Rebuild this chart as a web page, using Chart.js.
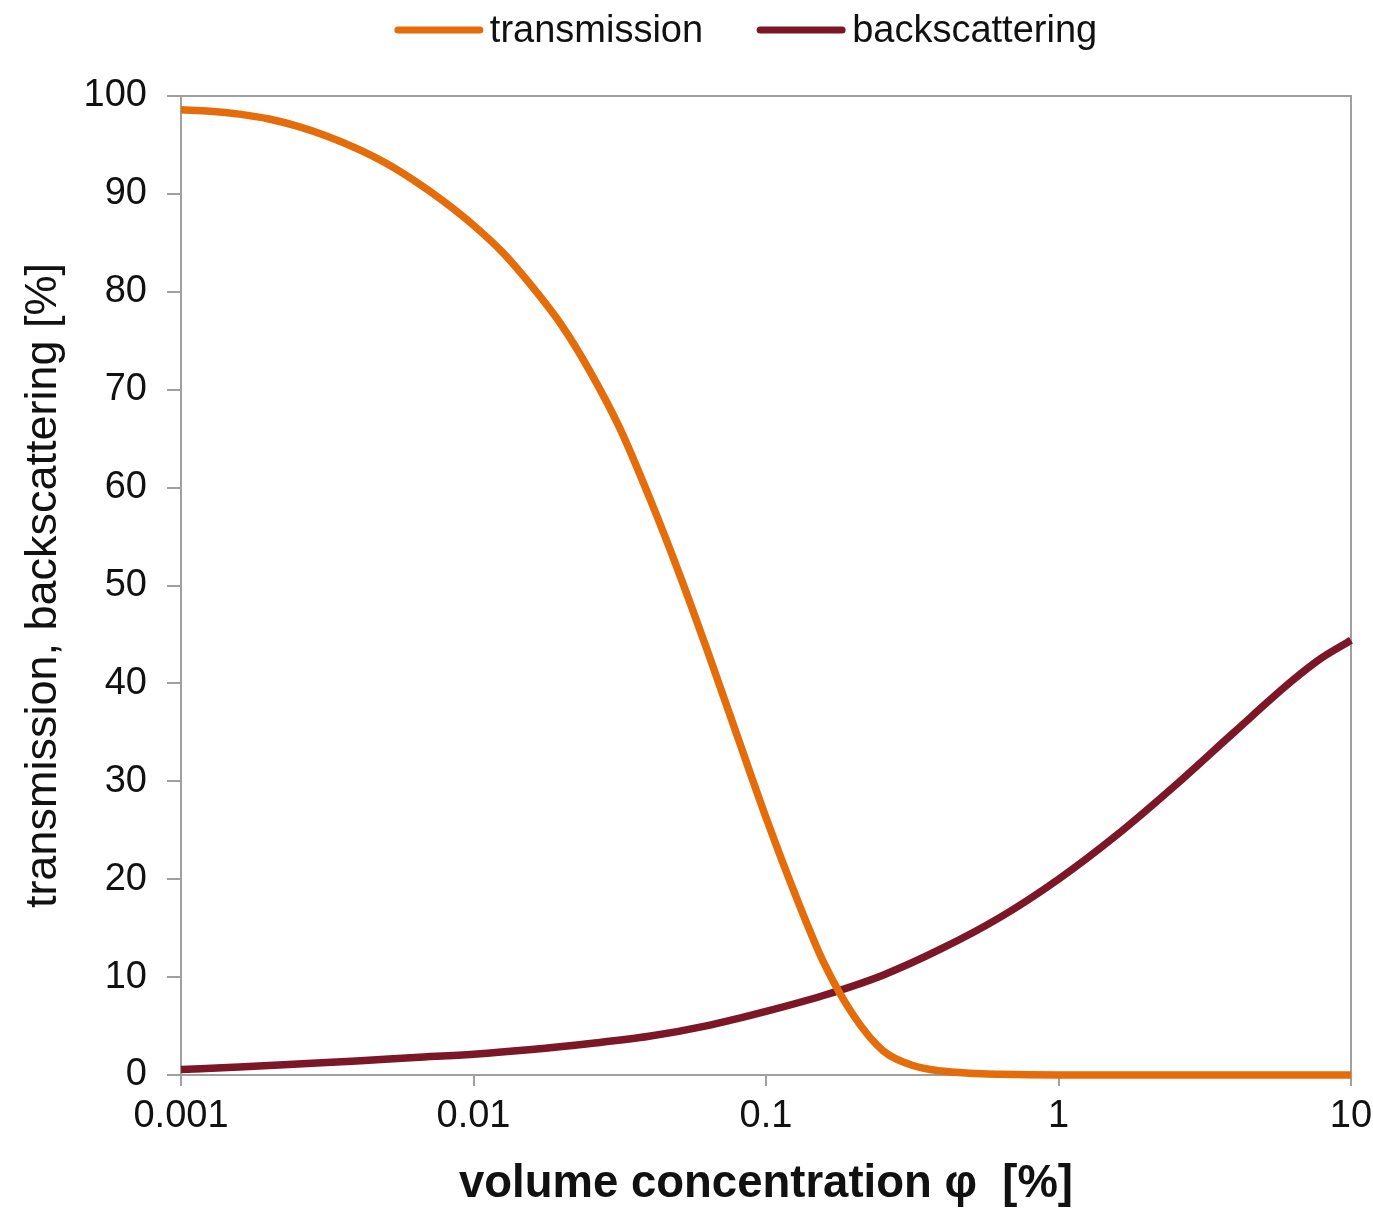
<!DOCTYPE html>
<html>
<head>
<meta charset="utf-8">
<script src="https://cdn.jsdelivr.net/npm/chart.js@4.4.0/dist/chart.umd.min.js"></script>
<style>
    body { margin: 0; background: #fff; }
    canvas { display: block; }
</style>
</head>
<body>
<canvas id="grafica" width="1373" height="1209"></canvas>
<script>
// transmission: volume concentration [%] y valor [%]
const transX = [0.001, 0.00126, 0.00158, 0.002, 0.00251, 0.00316, 0.00398, 0.00501, 0.00631, 0.00794,
    0.01, 0.0126, 0.0158, 0.02, 0.0251, 0.0316, 0.0398, 0.0501, 0.0631, 0.0794,
    0.1, 0.126, 0.158, 0.2, 0.251, 0.316, 0.398, 0.501, 0.631, 0.794, 1, 3, 10];
const transY = [98.6, 98.45, 98.15, 97.65, 96.9, 95.9, 94.65, 93.15, 91.3, 89.2,
    86.8, 84.0, 80.6, 76.6, 71.8, 66.1, 59.1, 51.5, 43.3, 34.8,
    26.3, 18.4, 11.4, 6.0, 2.5, 1.0, 0.4, 0.17, 0.07, 0.02, 0, 0, 0];

// backscattering: volume concentration [%] y valor [%]
const backX = [0.001, 0.00158, 0.00251, 0.00398, 0.00631, 0.01, 0.0158, 0.0251, 0.0398, 0.0631,
    0.1, 0.158, 0.251, 0.398, 0.631, 1, 1.58, 2.51, 3.98, 6.31, 7.94, 10];
const backY = [0.55, 0.82, 1.13, 1.44, 1.79, 2.12, 2.6, 3.22, 3.95, 5.05,
    6.5, 8.15, 10.2, 12.9, 16.1, 20.0, 24.5, 29.6, 35.0, 40.3, 42.6, 44.4];

const xTicks = [0.001, 0.01, 0.1, 1, 10];
const seriesNames = ["transmission", "backscattering"];

const colorTrans = "#E46C0A";
const colorBack = "#7B1727";
const axisGray = "#a0a0a0";
const fontFamily = '"Liberation Sans", Arial, sans-serif';

function puntos(xs, ys) {
    return xs.map((x, i) => ({ x: x, y: ys[i] }));
}

// marco gris arriba y a la derecha
const marco = {
    id: 'marco',
    beforeDatasetsDraw(chart) {
        const { ctx, chartArea: a } = chart;
        ctx.save();
        ctx.strokeStyle = axisGray;
        ctx.lineWidth = 2;
        ctx.beginPath();
        ctx.moveTo(a.left, a.top);
        ctx.lineTo(a.right, a.top);
        ctx.lineTo(a.right, a.bottom);
        ctx.stroke();
        ctx.restore();
    }
};

// leyenda arriba, con las distancias del original
const leyenda = {
    id: 'leyenda',
    afterDraw(chart) {
        const ctx = chart.ctx;
        const lineLen = 88, gapText = 7, gapItem = 54, centerX = 746, y = 30;
        ctx.save();
        ctx.font = '38px ' + fontFamily;
        ctx.textBaseline = 'middle';
        const items = chart.data.datasets.map(ds => ({
            text: ds.label, color: ds.borderColor, w: ctx.measureText(ds.label).width
        }));
        const total = items.reduce((s, it) => s + lineLen + gapText + it.w, 0) + gapItem * (items.length - 1);
        let x = centerX - total / 2;
        items.forEach(it => {
            ctx.strokeStyle = it.color;
            ctx.lineWidth = 7;
            ctx.lineCap = 'round';
            ctx.beginPath();
            ctx.moveTo(x + 3, y);
            ctx.lineTo(x + lineLen - 3, y);
            ctx.stroke();
            ctx.fillStyle = '#111';
            ctx.fillText(it.text, x + lineLen + gapText, y + 2);
            x += lineLen + gapText + it.w + gapItem;
        });
        ctx.restore();
    }
};

const grafica = new Chart(document.getElementById("grafica"), {
    type: "line",
    data: {
        datasets: [
            {
                label: seriesNames[0],
                data: puntos(transX, transY),
                borderColor: colorTrans,
                backgroundColor: colorTrans,
                borderWidth: 7.5,
                pointRadius: 0,
                cubicInterpolationMode: 'monotone',
                clip: 8,
            },
            {
                label: seriesNames[1],
                data: puntos(backX, backY),
                borderColor: colorBack,
                backgroundColor: colorBack,
                borderWidth: 7.5,
                pointRadius: 0,
                cubicInterpolationMode: 'monotone',
                clip: 8,
            },
        ],
    },
    options: {
        responsive: false,
        animation: false,
        layout: { padding: { top: 96, right: 22, left: 0, bottom: 0 } },
        plugins: {
            legend: { display: false },
            tooltip: { enabled: false },
        },
        scales: {
            x: {
                type: 'logarithmic',
                min: 0.001,
                max: 10,
                afterBuildTicks: (scale) => { scale.ticks = xTicks.map(v => ({ value: v })); },
                afterFit: (scale) => {
                    scale.height = 134;
                    scale.paddingLeft = 0;
                    scale.paddingRight = 0;
                },
                ticks: {
                    autoSkip: false,
                    maxRotation: 0,
                    padding: 8,
                    color: '#111',
                    font: { family: fontFamily, size: 38 },
                    callback: (v) => String(v),
                },
                grid: { drawOnChartArea: false, drawTicks: true, tickLength: 11, color: axisGray, lineWidth: 2 },
                border: { display: true, color: axisGray, width: 2 },
                title: {
                    display: true,
                    text: 'volume concentration φ  [%]',
                    color: '#111',
                    font: { family: fontFamily, size: 45.5, weight: 'bold', lineHeight: 1 },
                    padding: { top: 0, bottom: 2 },
                },
            },
            y: {
                min: 0,
                max: 100,
                afterFit: (scale) => {
                    scale.width = 181;
                    scale.paddingTop = 0;
                    scale.paddingBottom = 0;
                },
                ticks: {
                    stepSize: 10,
                    padding: 20,
                    color: '#111',
                    font: { family: fontFamily, size: 38 },
                },
                grid: { drawOnChartArea: false, drawTicks: true, tickLength: 14, color: axisGray, lineWidth: 2 },
                border: { display: true, color: axisGray, width: 2 },
                title: {
                    display: true,
                    text: 'transmission, backscattering [%]',
                    color: '#111',
                    font: { family: fontFamily, size: 45, lineHeight: 1 },
                    padding: { top: 21, bottom: 0 },
                },
            },
        },
    },
    plugins: [marco, leyenda],
});
</script>
</body>
</html>
